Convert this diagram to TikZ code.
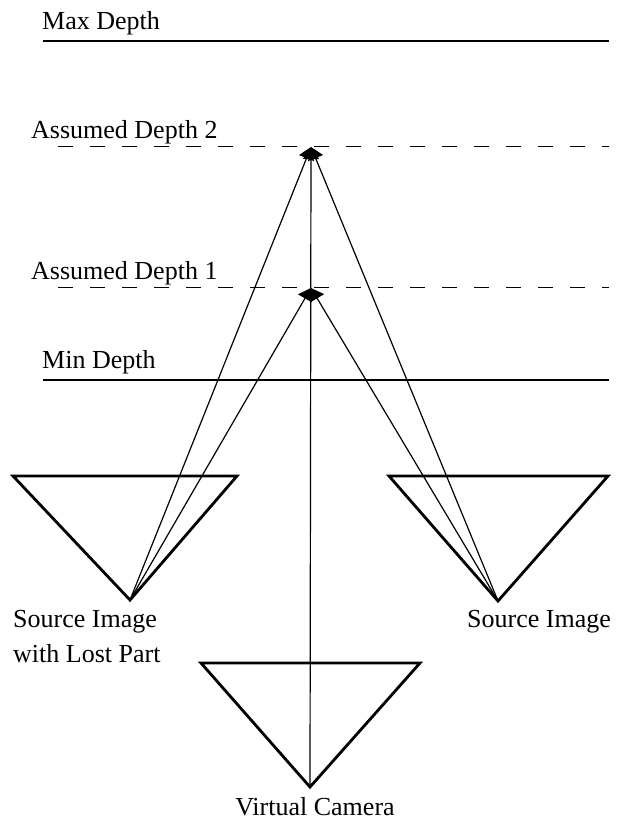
\documentclass[tikz,border=0pt]{standalone}
\usepackage{fontspec}
\setmainfont{Liberation Serif}
\usetikzlibrary{arrows.meta}
\begin{document}
\begin{tikzpicture}[x=1pt,y=-1pt,
  depthline/.style={line width=2.8pt},
  dashline/.style={line width=1pt,dash pattern=on 15pt off 17pt},
  cam/.style={line width=2.8pt,line join=miter},
  ray/.style={line width=1.2pt,-{Triangle[length=12pt,width=16pt]}},
  lbl/.style={font=\fontsize{26}{35}\selectfont,inner sep=0pt}]
\useasboundingbox (0,0) rectangle (618,823);
% depth lines
\coordinate (maxL) at (43,41); \coordinate (maxR) at (609,41);
\coordinate (a2L) at (58,146); \coordinate (a2R) at (609,146);
\coordinate (a1L) at (58,287); \coordinate (a1R) at (609,287);
\coordinate (minL) at (43,380); \coordinate (minR) at (609,380);
\draw[depthline] (maxL) -- (maxR);
\draw[dashline] (a2L) -- (a2R);
\draw[dashline] (a1L) -- (a1R);
\draw[depthline] (minL) -- (minR);
\node[lbl,anchor=base west] (tmax) at (42,29) {Max Depth};
\node[lbl,anchor=base west] (ta2) at (31,138) {Assumed Depth 2};
\node[lbl,anchor=base west] (ta1) at (31,279) {Assumed Depth 1};
\node[lbl,anchor=base west] (tmin) at (42,368) {Min Depth};
% points
\coordinate (p2) at (311,147);
\coordinate (p1) at (311,288);
% cameras
\coordinate (lA) at (13,476); \coordinate (lB) at (237,476); \coordinate (lC) at (130,600);
\coordinate (rA) at (389,476); \coordinate (rB) at (608,476); \coordinate (rC) at (498,601);
\coordinate (vA) at (201,663); \coordinate (vB) at (420,663); \coordinate (vC) at (310,787);
\draw[cam] (lA) -- (lB) -- (lC) -- cycle;
\draw[cam] (rA) -- (rB) -- (rC) -- cycle;
\draw[cam] (vA) -- (vB) -- (vC) -- cycle;
% rays
\draw[ray] (lC) -- (p1);
\draw[ray] (lC) -- (p2);
\draw[ray] (rC) -- (p1);
\draw[ray] (rC) -- (p2);
\draw[ray] (vC) -- (p2);
% labels
\node[lbl,anchor=base west,align=left] (tl) at (13,662) {Source Image\\with Lost Part};
\node[lbl,anchor=base west] (tr) at (467,627) {Source Image};
\node[lbl,anchor=base] (tv) at (315,815) {Virtual Camera};
\end{tikzpicture}
\end{document}
